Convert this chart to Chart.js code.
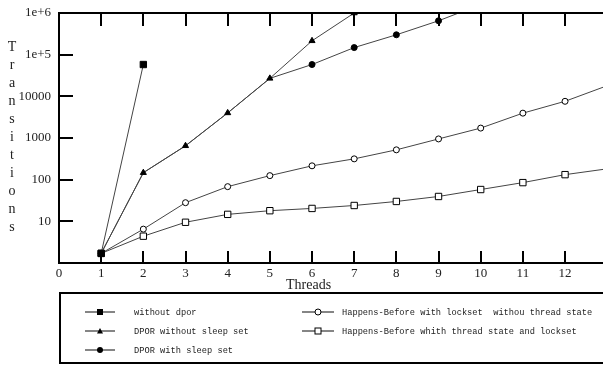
<!DOCTYPE html>
<html>
<head>
<meta charset="utf-8">
<script src="https://cdn.jsdelivr.net/npm/chart.js@4"></script>
<style>
  body { margin: 0; background: #fff; width: 603px; height: 367px; overflow: hidden; position: relative; }
  #plot { position: absolute; left: 0; top: 0; }
  .ytitle { position: absolute; left: 5px; top: 38px; width: 14px; text-align: center;
    font: 14px "Liberation Serif", serif; line-height: 18px; color: #222; }
  .xtitle { position: absolute; left: 286px; top: 277px; font: 14px "Liberation Serif", serif; color: #222; }
  #legend { position: absolute; left: 59px; top: 292px; width: 560px; height: 72px;
    border: 2px solid #000; box-sizing: border-box; }
  .item { position: absolute; font: 8.7px "Liberation Mono", monospace; color: #222; white-space: pre; }
  .item svg { position: absolute; left: 0; top: -2px; }
  .item span { position: absolute; top: 0; }
</style>
</head>
<body>
<canvas id="plot" width="603" height="292"></canvas>
<div class="ytitle">T<br>r<br>a<br>n<br>s<br>i<br>t<br>i<br>o<br>n<br>s</div>
<div class="xtitle">Threads</div>
<div id="legend"></div>
<script>
const threads = [1, 2, 3, 4, 5, 6, 7, 8, 9, 10, 11, 12, 13]
const xTicks = [0, 1, 2, 3, 4, 5, 6, 7, 8, 9, 10, 11, 12]
const yTicks = [1, 10, 100, 1000, 10000, 100000, 1000000]
const yLabels = ['', '10', '100', '1000', '10000', '1e+5', '1e+6']

const withoutDpor = [1.7, 58000]
const dporNoSleep = [1.7, 147, 650, 4000, 27000, 215000, 1000000]
const dporSleep = [1.7, 147, 650, 4000, 27000, 58000, 148000, 300000, 650000, 1600000]
const hbNoState = [1.7, 6.5, 28, 68, 125, 215, 316, 520, 950, 1730, 3950, 7600, 18000]
const hbState = [1.7, 4.4, 9.5, 14.7, 18, 20.4, 24, 30, 39.5, 58, 85, 132, 182]

const names = [
    'without dpor',
    'DPOR without sleep set',
    'DPOR with sleep set',
    'Happens-Before with lockset  withou thread state',
    'Happens-Before whith thread state and lockset'
]

function pts(values) {
    return values.map((v, i) => ({x: threads[i], y: v}))
}

function series(label, values, style, radius, fill, order) {
    return {
        label: label,
        data: pts(values),
        order: order,
        borderColor: '#444',
        borderWidth: 1,
        pointStyle: style,
        pointRadius: radius,
        pointBackgroundColor: fill,
        pointBorderColor: '#000',
        pointBorderWidth: 1,
        tension: 0
    }
}

// frame with inward tick marks, placed through the scales
const frame = {
    id: 'frame',
    afterDraw(chart) {
        const ctx = chart.ctx
        const a = chart.chartArea
        const xs = xTicks.map(t => chart.scales.x.getPixelForValue(t))
        const ys = yTicks.map(t => chart.scales.y.getPixelForValue(t))
        ctx.save()
        ctx.fillStyle = '#000'
        ctx.fillRect(a.left - 1, a.top - 1, a.right - a.left + 10, 2)
        ctx.fillRect(a.left - 1, a.top - 1, 2, a.bottom - a.top + 2)
        ctx.fillRect(a.left - 1, a.bottom - 1, a.right - a.left + 10, 2)
        xs.forEach((px, i) => {
            if (i === 0) return
            ctx.fillRect(Math.round(px) - 1, a.bottom - 12, 2, 12)
            ctx.fillRect(Math.round(px) - 1, a.top, 2, 13)
        })
        ys.forEach((py, i) => {
            if (i === 0) return
            ctx.fillRect(a.left, Math.round(py) - 1, 14, 2)
        })
        ctx.restore()
    }
}

const config = {
    type: 'line',
    data: {
        datasets: [
            series(names[0], withoutDpor, 'rect', 4.5, '#000', 0),
            series(names[1], dporNoSleep, 'triangle', 3.5, '#000', 1),
            series(names[2], dporSleep, 'circle', [0, 0, 0, 0, 0, 3, 3, 3, 3, 3], '#000', 2),
            series(names[3], hbNoState, 'circle', 3, '#fff', 3),
            series(names[4], hbState, 'rect', 4.5, '#fff', 4)
        ]
    },
    options: {
        responsive: false,
        animation: false,
        layout: { autoPadding: false, padding: { top: 13, right: 0 } },
        plugins: {
            legend: { display: false },
            tooltip: { enabled: false }
        },
        scales: {
            x: {
                type: 'linear',
                min: 0,
                max: 12.9,
                grid: { display: false, drawTicks: false },
                border: { display: false },
                afterBuildTicks: s => { s.ticks = xTicks.map(v => ({value: v})) },
                afterFit: s => {
                    s.height = 29
                    s.paddingLeft = 0
                    s.paddingRight = 0
                },
                ticks: {
                    padding: 3,
                    color: '#222',
                    font: { family: 'Liberation Serif', size: 13 },
                    maxRotation: 0,
                    autoSkip: false,
                    callback: v => String(v)
                }
            },
            y: {
                type: 'logarithmic',
                min: 1,
                max: 1000000,
                grid: { display: false, drawTicks: false },
                border: { display: false },
                afterBuildTicks: s => { s.ticks = yTicks.map(v => ({value: v})) },
                afterFit: s => {
                    s.width = 59
                    s.paddingTop = 0
                    s.paddingBottom = 0
                },
                ticks: {
                    padding: 8,
                    color: '#222',
                    font: { family: 'Liberation Serif', size: 13 },
                    autoSkip: false,
                    callback: v => yLabels[yTicks.indexOf(v)]
                }
            }
        }
    },
    plugins: [frame]
}

myChart = new Chart(document.getElementById('plot'), config)

// legend, two columns like the original box
const marks = [
    '<rect x="12" y="3" width="6" height="6" fill="#000"/>',
    '<path d="M15 3 L18 8.5 L12 8.5 Z" fill="#000"/>',
    '<circle cx="15" cy="6" r="3" fill="#000"/>',
    '<circle cx="16" cy="6" r="3" fill="#fff" stroke="#000"/>',
    '<rect x="13" y="3" width="6" height="6" fill="#fff" stroke="#000"/>'
]
const spots = [[24, 14], [24, 33], [24, 52], [241, 14], [241, 33]]
const textLeft = [49, 49, 49, 40, 40]
let legend_html = ''
names.forEach((name, i) => {
    legend_html +=
        `<div class="item" style="left:${spots[i][0]}px;top:${spots[i][1]}px"><svg width="32" height="12"><line x1="0" y1="6" x2="${i < 3 ? 30 : 32}" y2="6" stroke="#333" stroke-width="1.2"/>${marks[i]}</svg><span style="left:${textLeft[i]}px">${name}</span></div>`
})
document.getElementById('legend').innerHTML = legend_html
</script>
</body>
</html>
